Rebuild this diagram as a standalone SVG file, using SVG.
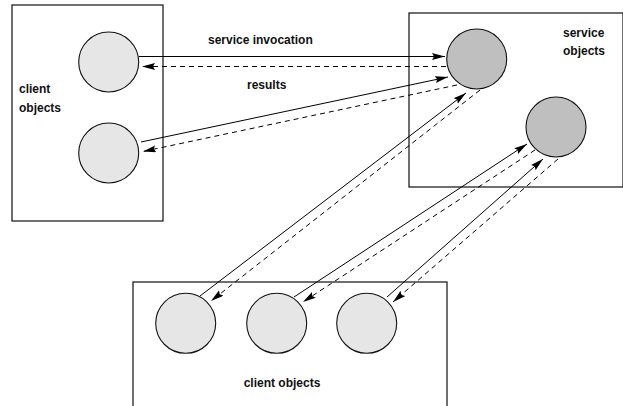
<svg xmlns="http://www.w3.org/2000/svg" width="623" height="406" viewBox="0 0 623 406">
<style>
.box{fill:#fff;stroke:#222;stroke-width:1.3}
.cli{fill:#e6e6e6;stroke:#111;stroke-width:1.1}
.srv{fill:#bfbfbf;stroke:#111;stroke-width:1.1}
.lbl{font-family:"Liberation Sans",Arial,sans-serif;font-weight:bold;font-size:12px;fill:#111}
.sol{fill:none;stroke:#000;stroke-width:1;marker-end:url(#ah)}
.dsh{fill:none;stroke:#000;stroke-width:1;stroke-dasharray:5 4;marker-end:url(#ah)}
</style>
<defs>
<marker id="ah" markerUnits="userSpaceOnUse" markerWidth="14" markerHeight="8" refX="13" refY="3.5" orient="auto">
<path d="M0,0 L13,3.5 L0,7 L2,3.5 z" fill="#000"/>
</marker>
</defs>
<g id="client-box-left">
<rect class="box" x="12" y="5" width="151" height="216"/>
<text class="lbl" x="19" y="93">client</text>
<text class="lbl" x="19" y="112">objects</text>
</g>
<g id="client-left-1"><circle class="cli" cx="108.7" cy="62" r="30"/></g>
<g id="client-left-2"><circle class="cli" cx="108.7" cy="153" r="30"/></g>
<g id="service-box">
<rect class="box" x="409" y="13" width="214" height="174"/>
<text class="lbl" x="563" y="37">service</text>
<text class="lbl" x="563" y="55">objects</text>
</g>
<g id="service-1"><circle class="srv" cx="476.7" cy="59" r="30"/></g>
<g id="service-2"><circle class="srv" cx="556" cy="127" r="30"/></g>
<g id="client-box-bottom">
<rect class="box" x="133" y="282" width="314" height="130"/>
<text class="lbl" x="282" y="387" text-anchor="middle">client objects</text>
</g>
<g id="client-bottom-1"><circle class="cli" cx="185.7" cy="323.3" r="30"/></g>
<g id="client-bottom-2"><circle class="cli" cx="276.7" cy="323.3" r="30"/></g>
<g id="client-bottom-3"><circle class="cli" cx="366.7" cy="323.3" r="30"/></g>
<g id="connectors">
<path class="sol" d="M139,56.5 L445,56.5"/>
<path class="dsh" d="M446,66.5 L142,66.5"/>
<path class="sol" d="M141,142 L448,77"/>
<path class="dsh" d="M457,85 L143,151.5"/>
<path class="sol" d="M200,296 L466,93"/>
<path class="dsh" d="M480,90 L211,301"/>
<path class="sol" d="M294,297 L527,144"/>
<path class="dsh" d="M535,150 L303,302"/>
<path class="sol" d="M387,297 L543,159"/>
<path class="dsh" d="M558,159 L393,302"/>
<text class="lbl" x="208" y="44">service invocation</text>
<text class="lbl" x="247" y="89">results</text>
</g>
</svg>
